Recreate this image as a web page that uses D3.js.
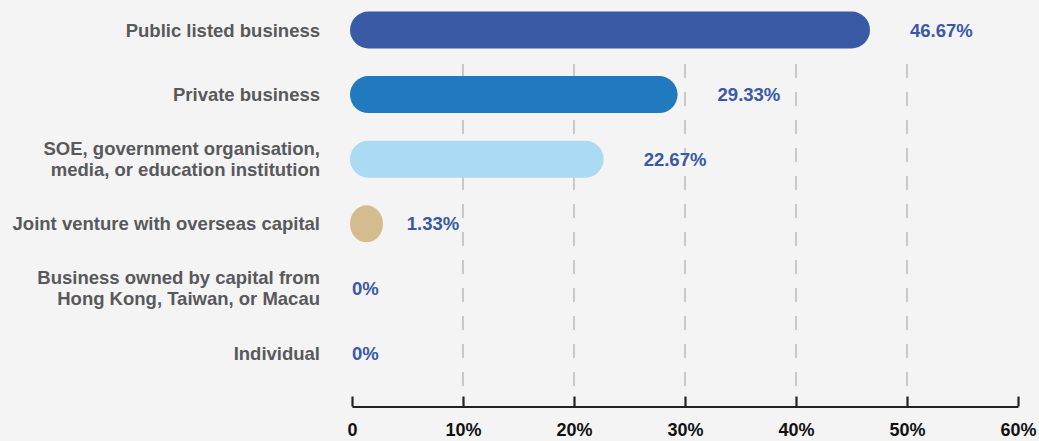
<!DOCTYPE html>
<html>
<head>
<meta charset="utf-8">
<script src="https://cdn.jsdelivr.net/npm/d3@7"></script>
<style>
  html, body { margin: 0; padding: 0; background: #f4f4f4; }
  svg { display: block; font-family: "Liberation Sans", Arial, Helvetica, sans-serif; }
</style>
</head>
<body>
<svg id="chart" width="1039" height="441"></svg>
<script>
// Ownership type of the organisation (share of respondents, %)
const categories = [
  ["Public listed business"],
  ["Private business"],
  ["SOE, government organisation,", "media, or education institution"],
  ["Joint venture with overseas capital"],
  ["Business owned by capital from", "Hong Kong, Taiwan, or Macau"],
  ["Individual"]
];
const values = [46.67, 29.33, 22.67, 1.33, 0, 0];
const valueLabels = ["46.67%", "29.33%", "22.67%", "1.33%", "0%", "0%"];
const barColors = ["#3a5aa6", "#2179be", "#abdaf3", "#d5bc8f", "#d5bc8f", "#d5bc8f"];
const tickValues = [0, 10, 20, 30, 40, 50, 60];
const tickLabels = ["0", "10%", "20%", "30%", "40%", "50%", "60%"];

const svg = d3.select("#chart");
const barH = 37;
const minBarW = 33;

const x = d3.scaleLinear().domain([0, 60]).range([352, 1018]);
const y = d3.scalePoint().domain(d3.range(categories.length)).range([30, 353]);

// dashed vertical gridlines
svg.append("g")
  .selectAll("line")
  .data(tickValues.filter(t => t > 0 && t < 60))
  .join("line")
  .attr("x1", d => x(d)).attr("x2", d => x(d))
  .attr("y1", 386).attr("y2", 50.5)
  .attr("stroke", "#c9c9c9")
  .attr("stroke-width", 2)
  .attr("stroke-dasharray", "14,14");

// rounded bars
const rows = values.map((v, i) => ({ v, i }));
const barW = d => Math.max(x(d.v) - x(0) + 2, minBarW);
svg.append("g")
  .selectAll("rect")
  .data(rows.filter(d => d.v > 0))
  .join("rect")
  .attr("x", x(0) - 2)
  .attr("y", d => y(d.i) - barH / 2)
  .attr("width", barW)
  .attr("height", barH)
  .attr("rx", d => Math.min(barH / 2, barW(d) / 2))
  .attr("ry", barH / 2)
  .attr("fill", d => barColors[d.i]);

// category labels
const cat = svg.append("g")
  .selectAll("text")
  .data(categories)
  .join("text")
  .attr("x", 320)
  .attr("y", (d, i) => y(i))
  .attr("text-anchor", "end")
  .attr("fill", "#58595b")
  .attr("font-size", "18.5px")
  .attr("font-weight", "bold");
cat.each(function (lines) {
  const t = d3.select(this);
  const lh = 21;
  const off = -(lines.length - 1) * lh / 2;
  lines.forEach((ln, k) => {
    t.append("tspan")
      .attr("x", 320)
      .attr("dy", k === 0 ? (off + 6.5) : lh)
      .text(ln);
  });
});

// value labels
svg.append("g")
  .selectAll("text")
  .data(rows)
  .join("text")
  .attr("x", d => d.v > 0 ? x(d.v) + 40 : x(0))
  .attr("y", d => y(d.i) + 6.5)
  .attr("fill", "#3a58a8")
  .attr("font-size", "18.5px")
  .attr("font-weight", "bold")
  .text(d => valueLabels[d.i]);

// bottom axis with upward ticks
const axis = d3.axisBottom(x)
  .tickValues(tickValues)
  .tickFormat((d, i) => tickLabels[i])
  .tickSize(-10)
  .tickSizeOuter(0)
  .tickPadding(17);
const ax = svg.append("g")
  .attr("transform", "translate(0,406.5)")
  .call(axis);
ax.select(".domain").attr("stroke", "#222").attr("stroke-width", 2.2);
ax.selectAll(".tick line").attr("stroke", "#222").attr("stroke-width", 2.2);
ax.selectAll(".tick text")
  .attr("fill", "#111")
  .attr("font-size", "18px")
  .attr("font-weight", "bold")
  .attr("font-family", "\"Liberation Sans\", Arial, sans-serif");
</script>
</body>
</html>
